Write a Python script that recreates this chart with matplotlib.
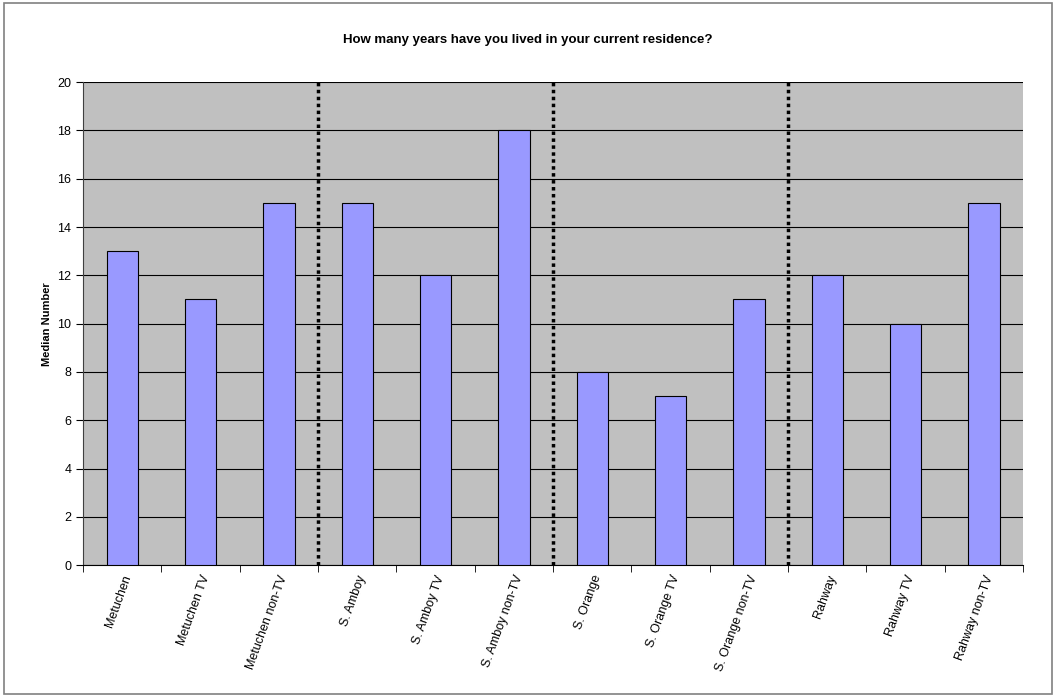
import matplotlib
matplotlib.use("Agg")
import matplotlib.pyplot as plt
import numpy as np
from matplotlib.patches import Rectangle

plt.rcParams['font.family'] = ['Liberation Sans', 'DejaVu Sans']

categories = ['Metuchen', 'Metuchen TV', 'Metuchen non-TV',
              'S. Amboy', 'S. Amboy TV', 'S. Amboy non-TV',
              'S. Orange', 'S. Orange TV', 'S. Orange non-TV',
              'Rahway', 'Rahway TV', 'Rahway non-TV']
values = [13, 11, 15, 15, 12, 18, 8, 7, 11, 12, 10, 15]
separators = [3, 6, 9]

fig = plt.figure(figsize=(10.56, 6.96), dpi=100)
ax = fig.add_axes([0.0786, 0.188, 0.8902, 0.694])
fig.patches.append(Rectangle((0.004, 0.003), 0.992, 0.993, transform=fig.transFigure,
                             fill=False, edgecolor='#808080', linewidth=1.2))

x = np.arange(len(categories))
ax.set_facecolor('#C0C0C0')
ax.bar(x, values, width=0.4, color='#9999FF', edgecolor='black', linewidth=0.8, zorder=3)
for s in separators:
    ax.axvline(s - 0.5, color='black', linestyle=(0, (1, 1)), linewidth=2.5, zorder=4)

ax.set_xlim(-0.5, len(categories) - 0.5)
ax.set_ylim(0, 20)
ax.set_yticks(range(0, 21, 2))
ax.yaxis.grid(True, color='black', linewidth=0.8, zorder=1)
ax.set_axisbelow(True)

ax.set_xticks(x)
ax.set_xticklabels(categories, rotation=70, ha='right', rotation_mode='anchor', fontsize=9)
ax.tick_params(axis='x', length=0, pad=6)
ax.set_xticks(np.arange(-0.5, len(categories), 1), minor=True)
ax.tick_params(axis='x', which='minor', length=5, direction='out')
ax.tick_params(axis='y', labelsize=9, length=5)

for side in ['top', 'right']:
    ax.spines[side].set_visible(False)
ax.spines['left'].set_color('#404040')
ax.spines['bottom'].set_color('black')

ax.set_ylabel('Median Number', fontsize=8, fontweight='bold')
fig.text(0.5, 0.942, 'How many years have you lived in your current residence?',
         ha='center', va='center', fontsize=9.5, fontweight='bold')

fig.savefig('out.png', dpi=100)
